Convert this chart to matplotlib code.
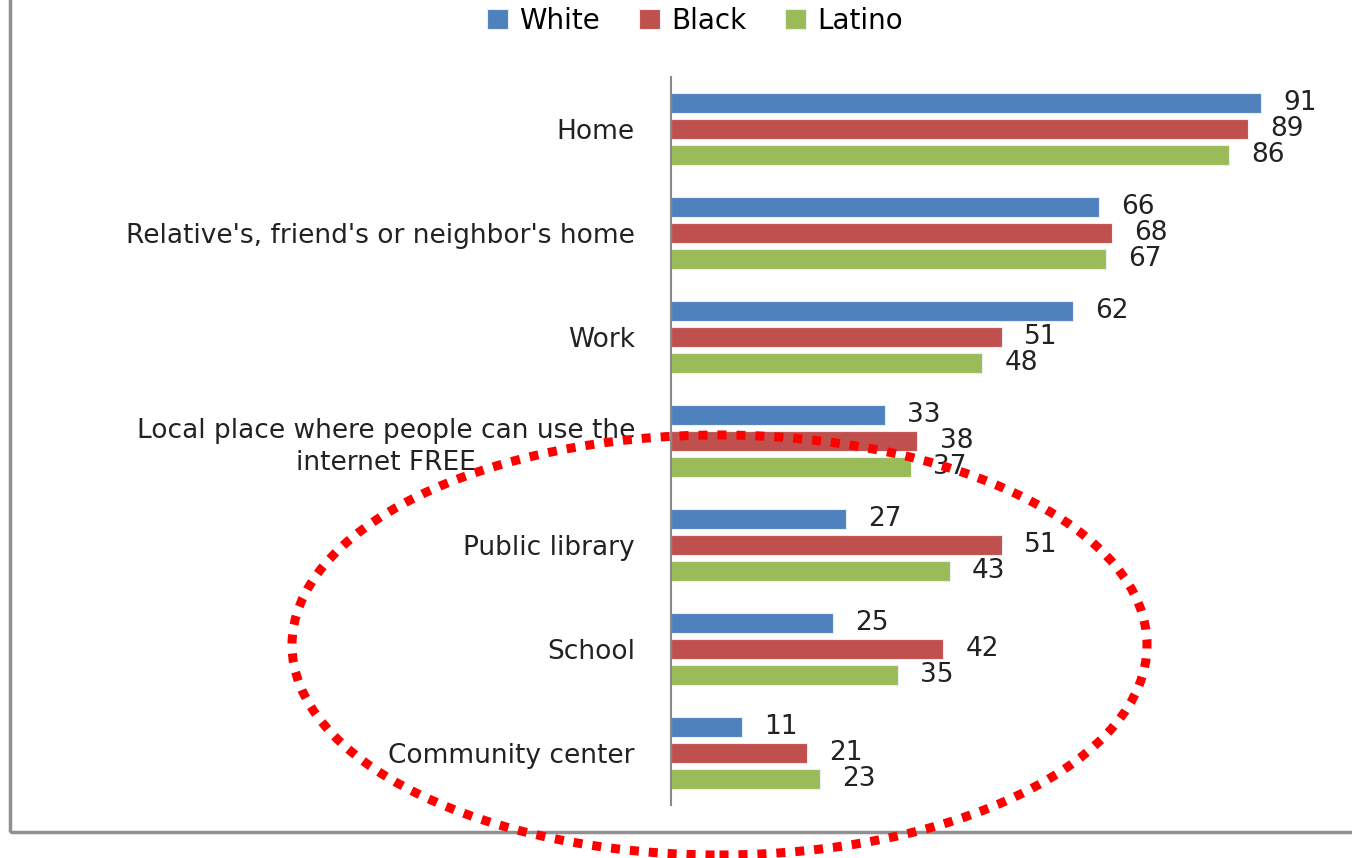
import numpy as np
import matplotlib.pyplot as plt
from matplotlib.patches import Ellipse, Rectangle

places = ["Home", "Relative's, friend's or neighbor's home", "Work",
          "Local place where people can use the\ninternet FREE",
          "Public library", "School", "Community center"]
white = [91, 66, 62, 33, 27, 25, 11]
black = [89, 68, 51, 38, 51, 42, 21]
latino = [86, 67, 48, 37, 43, 35, 23]

series = [("White", white, "#4F81BD"),
          ("Black", black, "#C0504D"),
          ("Latino", latino, "#9BBB59")]

plt.rcParams['font.family'] = 'DejaVu Sans'

fig = plt.figure(figsize=(13.52, 8.58), dpi=100)
ax = fig.add_axes([671/1352, 1 - 805/858, 1 - 671/1352, (805 - 77)/858])

y = np.arange(len(places))
for k, (name, vals, col) in enumerate(series):
    pos = y + (k - 1) * 0.25
    bars = ax.barh(pos, vals, height=0.2, color=col, edgecolor='#e8eef5',
                   linewidth=0.8, label=name)
    for b, v in zip(bars, vals):
        ax.annotate(str(v), (v, b.get_y() + b.get_height() / 2),
                    xytext=(16, 0), textcoords='offset points',
                    ha='left', va='center', fontsize=19, color='#222222')

ax.set_xlim(0, 105)
ax.set_ylim(6.5, -0.5)
ax.set_xticks([])
ax.set_yticks(y)
ax.set_yticklabels(places, fontsize=19, color='#222222',
                   multialignment='center', linespacing=1.3)
ax.tick_params(axis='y', length=0, pad=26)
for s in ['top', 'right', 'bottom']:
    ax.spines[s].set_visible(False)
ax.spines['left'].set_color('#8a8a8a')
ax.spines['left'].set_linewidth(1.5)

fig.legend(loc='center', bbox_to_anchor=(695/1352, 1 - 21/858), ncol=3,
           frameon=False, fontsize=20, handlelength=0.75, handleheight=0.75,
           handletextpad=0.4, columnspacing=1.4)

# outer frame
fig.add_artist(Rectangle((10/1352, 1 - 832/858), 1.2, 1.2,
                         transform=fig.transFigure, fill=False,
                         edgecolor='#909090', linewidth=2.5))

# highlight ring
fig.add_artist(Ellipse((719.5/1352, 1 - 645/858), 855/1352, 420/858,
                       transform=fig.transFigure, fill=False,
                       edgecolor='#ff0000', linewidth=6.5,
                       linestyle=(0, (1, 1.1))))

fig.savefig('out.png', dpi=100, facecolor='white')
